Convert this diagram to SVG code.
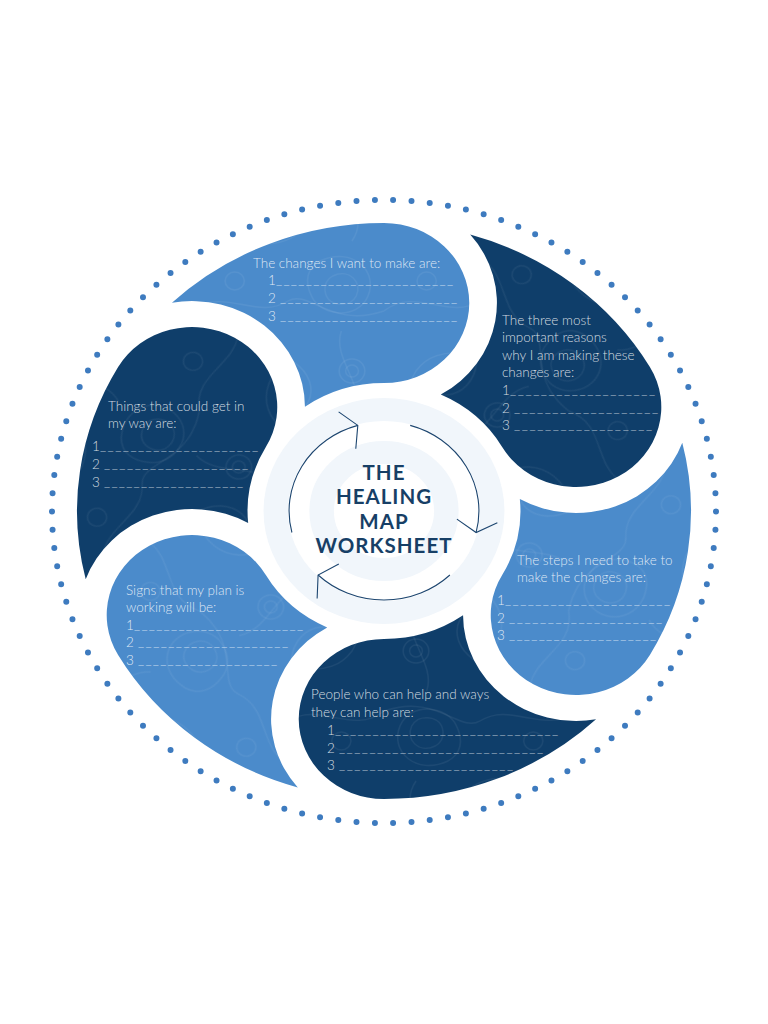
<svg xmlns="http://www.w3.org/2000/svg" xmlns:xlink="http://www.w3.org/1999/xlink" width="768" height="1024" viewBox="0 0 768 1024">
<style>
.light{fill:#4b8bcb}
.dark{fill:#0f3e6a}
.tx{font-family:Lato,"Open Sans","Liberation Sans",sans-serif;font-weight:300;font-size:13.5px;fill:#ffffff;fill-opacity:.82}
.ul{font-family:Lato,"Open Sans","Liberation Sans",sans-serif;font-weight:300;font-size:13.5px;fill:#ffffff;fill-opacity:.75}
.title{font-family:Lato,"Open Sans","Liberation Sans",sans-serif;font-weight:700;font-size:20.5px;fill:#173f66;letter-spacing:1px;text-anchor:middle}
.arc{fill:none;stroke:#1d4670;stroke-width:1.1}
</style>
<defs>
<path id="petal" d="M0,-288 A288,288 0 0 0 -198.95,-208.25 A106,106 0 0 1 -74.15,-104.33 A128,128 0 0 1 0,-128 A80,80 0 0 0 80,-208 A80,80 0 0 0 0,-288 Z"/>
<pattern id="topo" patternUnits="userSpaceOnUse" width="180" height="180">
<g fill="none" stroke="#ffffff" stroke-opacity="0.06" stroke-width="1.4">
<path d="M30,40 C50,10 100,20 110,50 C120,80 80,100 60,90 C35,80 15,65 30,40 Z"/>
<path d="M45,45 C60,30 90,35 95,52 C100,70 75,80 62,74 C48,68 38,58 45,45 Z"/>
<path d="M120,110 C150,95 175,120 165,145 C155,170 120,165 112,145 C105,130 108,117 120,110Z"/>
<path d="M132,125 C148,117 160,132 154,145 C148,157 130,155 126,145 C123,137 125,129 132,125Z"/>
<path d="M0,160 C30,135 60,170 90,150 C110,138 130,178 180,160"/>
<path d="M140,0 C130,30 170,60 150,90"/>
<circle cx="150" cy="40" r="12"/><circle cx="150" cy="40" r="6"/>
<circle cx="40" cy="130" r="9"/>
</g>
</pattern>
<marker id="ah" markerUnits="userSpaceOnUse" viewBox="-25 -25 50 50" markerWidth="50" markerHeight="50" refX="0" refY="0" orient="auto" overflow="visible">
<path d="M-15,-18 L0,0 L-8,22" fill="none" stroke="#1d4670" stroke-width="1.1"/>
</marker>
</defs>
<rect width="768" height="1024" fill="#ffffff"/>
<g id="dotted-ring">
<ellipse cx="384" cy="511.5" rx="332" ry="311.5" fill="none" stroke="#3e7bbf" stroke-width="6" stroke-linecap="round" stroke-dasharray="0 1" pathLength="110"/>
</g>
<g id="center-rings" transform="translate(384,511) scale(1.066,1)">
<circle r="101.5" fill="none" stroke="#f1f6fb" stroke-width="23"/>
<circle r="58.5" fill="none" stroke="#f1f6fb" stroke-width="23"/>
</g>
<g id="node-changes">
<g transform="translate(384,511) scale(1.066,1) rotate(0)"><use href="#petal" class="light"/><use href="#petal" fill="url(#topo)"/></g>
<text class="tx" x="253" y="268">The changes I want to make are:</text>
<text class="tx" x="268" y="285">1</text><text class="ul" x="276" y="284" textLength="177" lengthAdjust="spacing">________________________</text>
<text class="tx" x="268" y="303">2</text><text class="ul" x="280" y="302" textLength="177" lengthAdjust="spacing">________________________</text>
<text class="tx" x="268" y="321">3</text><text class="ul" x="280" y="320" textLength="177" lengthAdjust="spacing">________________________</text>
</g>
<g id="node-reasons">
<g transform="translate(384,511) scale(1.066,1) rotate(60)"><use href="#petal" class="dark"/><use href="#petal" fill="url(#topo)"/></g>
<text class="tx" x="502" y="325">The three most</text>
<text class="tx" x="502" y="342">important reasons</text>
<text class="tx" x="502" y="360">why I am making these</text>
<text class="tx" x="502" y="377">changes are:</text>
<text class="tx" x="502" y="395">1</text><text class="ul" x="510" y="394" textLength="145" lengthAdjust="spacing">___________________</text>
<text class="tx" x="502" y="413">2</text><text class="ul" x="514" y="412" textLength="144" lengthAdjust="spacing">___________________</text>
<text class="tx" x="502" y="430">3</text><text class="ul" x="514" y="429" textLength="138" lengthAdjust="spacing">__________________</text>
</g>
<g id="node-steps">
<g transform="translate(384,511) scale(1.066,1) rotate(120)"><use href="#petal" class="light"/><use href="#petal" fill="url(#topo)"/></g>
<text class="tx" x="517" y="565">The steps I need to take to</text>
<text class="tx" x="517" y="582">make the changes are:</text>
<text class="tx" x="497" y="605">1</text><text class="ul" x="505" y="604" textLength="165" lengthAdjust="spacing">______________________</text>
<text class="tx" x="497" y="623">2</text><text class="ul" x="509" y="622" textLength="153" lengthAdjust="spacing">____________________</text>
<text class="tx" x="497" y="640">3</text><text class="ul" x="509" y="639" textLength="147" lengthAdjust="spacing">____________________</text>
</g>
<g id="node-people">
<g transform="translate(384,511) scale(1.066,1) rotate(180)"><use href="#petal" class="dark"/><use href="#petal" fill="url(#topo)"/></g>
<text class="tx" x="311" y="699">People who can help and ways</text>
<text class="tx" x="311" y="717">they can help are:</text>
<text class="tx" x="327" y="735">1</text><text class="ul" x="335" y="734" textLength="223" lengthAdjust="spacing">______________________________</text>
<text class="tx" x="327" y="753">2</text><text class="ul" x="339" y="752" textLength="204" lengthAdjust="spacing">___________________________</text>
<text class="tx" x="327" y="770">3</text><text class="ul" x="339" y="769" textLength="174" lengthAdjust="spacing">_______________________</text>
</g>
<g id="node-signs">
<g transform="translate(384,511) scale(1.066,1) rotate(240)"><use href="#petal" class="light"/><use href="#petal" fill="url(#topo)"/></g>
<text class="tx" x="126" y="595">Signs that my plan is</text>
<text class="tx" x="126" y="612">working will be:</text>
<text class="tx" x="126" y="630">1</text><text class="ul" x="134" y="629" textLength="169" lengthAdjust="spacing">_______________________</text>
<text class="tx" x="126" y="647">2</text><text class="ul" x="138" y="646" textLength="150" lengthAdjust="spacing">____________________</text>
<text class="tx" x="126" y="665">3</text><text class="ul" x="138" y="664" textLength="139" lengthAdjust="spacing">___________________</text>
</g>
<g id="node-obstacles">
<g transform="translate(384,511) scale(1.066,1) rotate(300)"><use href="#petal" class="dark"/><use href="#petal" fill="url(#topo)"/></g>
<text class="tx" x="108" y="411">Things that could get in</text>
<text class="tx" x="108" y="428">my way are:</text>
<text class="tx" x="92" y="451">1</text><text class="ul" x="100" y="450" textLength="158" lengthAdjust="spacing">_____________________</text>
<text class="tx" x="92" y="469">2</text><text class="ul" x="104" y="468" textLength="144" lengthAdjust="spacing">___________________</text>
<text class="tx" x="92" y="487">3</text><text class="ul" x="104" y="486" textLength="139" lengthAdjust="spacing">___________________</text>
</g>
<g id="connectors">
<path class="arc" d="M291.9,532.5 A94.9,89 0 0 1 357.8,425.4" marker-end="url(#ah)"/>
<path class="arc" d="M410.2,425.4 A94.9,89 0 0 1 476.1,532.5" marker-end="url(#ah)"/>
<path class="arc" d="M449.9,575 A94.9,89 0 0 1 318.1,575" marker-end="url(#ah)"/>
</g>
<g id="node-title">
<text class="title" x="384" y="480">THE</text>
<text class="title" x="384" y="504">HEALING</text>
<text class="title" x="384" y="528.5">MAP</text>
<text class="title" x="384" y="553">WORKSHEET</text>
</g>
</svg>
